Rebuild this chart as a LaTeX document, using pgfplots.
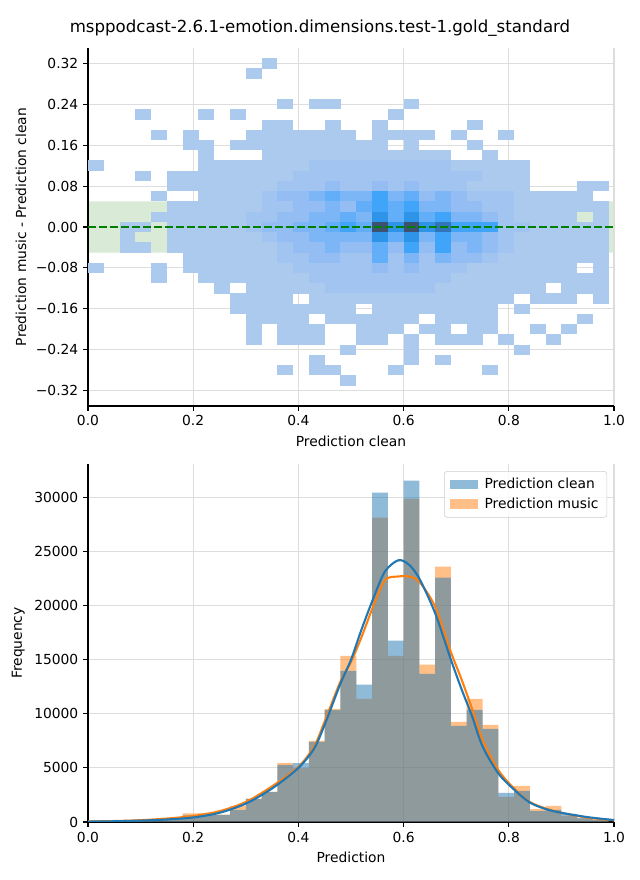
\documentclass[border=0pt]{standalone}
\usepackage{pgfplots}
\pgfplotsset{compat=1.18}
\usepackage{pgfplotstable}
\usepackage{fontspec}
\setmainfont{DejaVu Sans}

\definecolor{tabblue}{RGB}{31,119,180}
\definecolor{taborange}{RGB}{255,127,14}
\definecolor{gridgray}{RGB}{221,221,221}
\definecolor{spangreen}{RGB}{217,234,214}
\definecolor{linegreen}{RGB}{0,128,0}
\definecolor{legblue}{RGB}{143,187,217}
\definecolor{legorange}{RGB}{255,191,134}

\pgfdeclareplotmark{cell}{\pgfpathrectangle{\pgfpoint{-5.72bp}{-3.72bp}}{\pgfpoint{11.44bp}{7.44bp}}\pgfusepathqfill}

\pgfplotstableread{
x clean music
0.00 80 90
0.03 80 90
0.06 90 100
0.09 120 130
0.12 180 200
0.15 280 300
0.18 620 800
0.21 650 820
0.24 650 680
0.27 1110 1480
0.30 2130 2150
0.33 2780 2780
0.36 5280 5460
0.39 5450 5000
0.42 7400 7500
0.45 10350 10450
0.48 13980 15370
0.51 12690 11390
0.54 30460 28150
0.57 16760 15370
0.60 31570 29900
0.63 13700 14540
0.66 22600 23600
0.69 8890 9260
0.72 10370 11390
0.75 8610 8980
0.78 2690 2320
0.81 2870 3330
0.84 1020 1200
0.87 1110 1480
0.90 740 560
0.93 370 330
0.96 190 170
0.99 190 170
}\histdata

\pgfplotstableread{
x clean music
0.00 40 50
0.05 70 90
0.10 130 170
0.15 230 320
0.20 420 560
0.25 850 1000
0.30 1700 1850
0.35 3100 3300
0.40 5000 5100
0.43 6800 7000
0.45 9000 9300
0.48 12800 13000
0.50 15000 14800
0.52 17800 17100
0.545 21000 20300
0.565 23200 22400
0.59 24200 22700
0.61 23800 22700
0.63 22500 22200
0.66 19300 19900
0.69 15000 15700
0.71 12300 13200
0.73 9800 10500
0.75 7000 7600
0.78 4500 4800
0.81 3000 3100
0.84 1800 1850
0.87 1200 1250
0.90 850 850
0.95 450 400
1.00 180 150
}\kdedata

\pgfplotsset{myaxis/.style={
  scale only axis, width=378.72bp, height=257.76bp,
  xmin=0, xmax=1,
  axis x line*=bottom, axis y line*=left,
  axis line style={-, line width=0.8pt},
  tick align=outside, major tick length=3.5pt,
  every tick/.style={black, line width=0.8pt},
  grid=major, grid style={gridgray, line width=0.8pt},
  xtick={0,0.2,0.4,0.6,0.8,1}, xticklabels={0.0,0.2,0.4,0.6,0.8,1.0},
  /pgf/number format/assume math mode=true,
  tick label style={font=\fontsize{10}{12}\selectfont},
  label style={font=\fontsize{10}{12}\selectfont},
}}

\begin{document}
\begin{tikzpicture}
\path[use as bounding box] (0,0) rectangle (460.8bp,633.6bp);
\node[font=\fontsize{12}{14}\selectfont] at (230.4bp,613bp) {msppodcast-2.6.1-emotion.dimensions.test-1.gold\_standard};

\begin{axis}[myaxis, at={(63.36bp,341.28bp)}, anchor=south west,
  axis on top,
  ymin=-0.35, ymax=0.35,
  ytick={-0.32,-0.24,-0.16,-0.08,0,0.08,0.16,0.24,0.32},
  yticklabels={−0.32,−0.24,−0.16,−0.08,0.00,0.08,0.16,0.24,0.32},
  xlabel={Prediction clean}, ylabel={Prediction music - Prediction clean},
  colormap={heat}{rgb255=(172,201,238) rgb255=(162,196,240) rgb255=(148,190,243) rgb255=(125,182,246) rgb255=(98,174,248) rgb255=(64,164,248) rgb255=(45,148,232) rgb255=(50,118,185) rgb255=(60,82,112)},
  point meta min=1, point meta max=9]

\addplot[fill=spangreen, draw=none, forget plot] coordinates {(0,-0.05) (1,-0.05) (1,0.05) (0,0.05) (0,-0.05)};

\addplot[scatter, only marks, mark=cell, point meta=explicit,
  scatter/use mapped color={draw=mapped color, fill=mapped color}]
  table[x=x, y=y, meta=v, row sep=\\] {
x y v\\
0.345 0.32 1\\
0.315 0.30 1\\
0.375 0.24 1\\ 0.435 0.24 1\\ 0.465 0.24 1\\ 0.615 0.24 1\\
0.105 0.22 1\\ 0.225 0.22 1\\ 0.285 0.22 1\\ 0.585 0.22 1\\
0.345 0.20 1\\ 0.375 0.20 1\\ 0.465 0.20 1\\ 0.555 0.20 1\\ 0.735 0.20 1\\
0.135 0.18 1\\ 0.195 0.18 1\\ 0.315 0.18 1\\ 0.345 0.18 1\\ 0.375 0.18 1\\ 0.405 0.18 1\\ 0.435 0.18 1\\ 0.465 0.18 1\\ 0.495 0.18 1\\ 0.555 0.18 1\\ 0.585 0.18 1\\ 0.615 0.18 1\\ 0.645 0.18 1\\ 0.705 0.18 1\\ 0.795 0.18 1\\
0.195 0.16 1\\ 0.225 0.16 1\\ 0.285 0.16 1\\ 0.315 0.16 1\\ 0.345 0.16 1\\ 0.375 0.16 1\\ 0.405 0.16 1\\ 0.435 0.16 1\\ 0.465 0.16 1\\ 0.495 0.16 1\\ 0.525 0.16 1\\ 0.555 0.16 1\\ 0.615 0.16 1\\ 0.735 0.16 1\\
0.225 0.14 1\\ 0.345 0.14 1\\ 0.375 0.14 1\\ 0.405 0.14 1\\ 0.435 0.14 1\\ 0.465 0.14 1\\ 0.495 0.14 1\\ 0.525 0.14 1\\ 0.555 0.14 1\\ 0.585 0.14 1\\ 0.615 0.14 1\\ 0.645 0.14 1\\ 0.675 0.14 1\\ 0.765 0.14 1\\
0.015 0.12 1\\ 0.225 0.12 1\\ 0.255 0.12 1\\ 0.285 0.12 1\\ 0.315 0.12 1\\ 0.345 0.12 1\\ 0.375 0.12 1\\ 0.405 0.12 1\\ 0.435 0.12 2\\ 0.465 0.12 2\\ 0.495 0.12 2\\ 0.525 0.12 2\\ 0.555 0.12 2\\ 0.585 0.12 2\\ 0.615 0.12 2\\ 0.645 0.12 2\\ 0.675 0.12 2\\ 0.705 0.12 1\\ 0.735 0.12 1\\ 0.765 0.12 1\\ 0.795 0.12 1\\ 0.825 0.12 1\\
0.105 0.10 1\\ 0.165 0.10 1\\ 0.195 0.10 1\\ 0.225 0.10 1\\ 0.255 0.10 1\\ 0.285 0.10 1\\ 0.315 0.10 1\\ 0.345 0.10 1\\ 0.375 0.10 1\\ 0.405 0.10 2\\ 0.435 0.10 2\\ 0.465 0.10 2\\ 0.495 0.10 2\\ 0.525 0.10 2\\ 0.555 0.10 2\\ 0.585 0.10 2\\ 0.615 0.10 2\\ 0.645 0.10 2\\ 0.675 0.10 2\\ 0.705 0.10 2\\ 0.735 0.10 2\\ 0.765 0.10 1\\ 0.795 0.10 1\\ 0.825 0.10 1\\
0.165 0.08 1\\ 0.195 0.08 1\\ 0.225 0.08 1\\ 0.255 0.08 1\\ 0.285 0.08 1\\ 0.315 0.08 1\\ 0.345 0.08 1\\ 0.375 0.08 2\\ 0.405 0.08 2\\ 0.435 0.08 2\\ 0.465 0.08 3\\ 0.495 0.08 2\\ 0.525 0.08 2\\ 0.555 0.08 3\\ 0.585 0.08 2\\ 0.615 0.08 3\\ 0.645 0.08 2\\ 0.675 0.08 2\\ 0.705 0.08 2\\ 0.735 0.08 1\\ 0.765 0.08 1\\ 0.795 0.08 1\\ 0.825 0.08 1\\ 0.945 0.08 1\\ 0.975 0.08 1\\
0.135 0.06 1\\ 0.225 0.06 1\\ 0.255 0.06 1\\ 0.285 0.06 1\\ 0.315 0.06 1\\ 0.345 0.06 2\\ 0.375 0.06 3\\ 0.405 0.06 3\\ 0.435 0.06 4\\ 0.465 0.06 5\\ 0.495 0.06 4\\ 0.525 0.06 4\\ 0.555 0.06 6\\ 0.585 0.06 4\\ 0.615 0.06 5\\ 0.645 0.06 3\\ 0.675 0.06 4\\ 0.705 0.06 3\\ 0.735 0.06 2\\ 0.765 0.06 2\\ 0.795 0.06 2\\ 0.825 0.06 1\\ 0.855 0.06 1\\ 0.885 0.06 1\\ 0.915 0.06 1\\ 0.945 0.06 1\\
0.165 0.04 1\\ 0.195 0.04 1\\ 0.225 0.04 1\\ 0.255 0.04 1\\ 0.285 0.04 1\\ 0.315 0.04 1\\ 0.345 0.04 2\\ 0.375 0.04 2\\ 0.405 0.04 3\\ 0.435 0.04 3\\ 0.465 0.04 4\\ 0.495 0.04 3\\ 0.525 0.04 5\\ 0.555 0.04 6\\ 0.585 0.04 5\\ 0.615 0.04 6\\ 0.645 0.04 4\\ 0.675 0.04 4\\ 0.705 0.04 3\\ 0.735 0.04 3\\ 0.765 0.04 2\\ 0.795 0.04 2\\ 0.825 0.04 1\\ 0.855 0.04 1\\ 0.885 0.04 1\\ 0.915 0.04 1\\ 0.945 0.04 1\\ 0.975 0.04 1\\
0.135 0.02 1\\ 0.165 0.02 1\\ 0.195 0.02 1\\ 0.225 0.02 1\\ 0.255 0.02 1\\ 0.285 0.02 1\\ 0.315 0.02 2\\ 0.345 0.02 2\\ 0.375 0.02 3\\ 0.405 0.02 3\\ 0.435 0.02 4\\ 0.465 0.02 4\\ 0.495 0.02 5\\ 0.525 0.02 4\\ 0.555 0.02 7\\ 0.585 0.02 5\\ 0.615 0.02 7\\ 0.645 0.02 5\\ 0.675 0.02 6\\ 0.705 0.02 4\\ 0.735 0.02 4\\ 0.765 0.02 3\\ 0.795 0.02 2\\ 0.825 0.02 1\\ 0.855 0.02 1\\ 0.885 0.02 1\\ 0.915 0.02 1\\ 0.975 0.02 1\\
0.075 0.00 1\\ 0.105 0.00 1\\ 0.165 0.00 1\\ 0.195 0.00 1\\ 0.225 0.00 1\\ 0.255 0.00 1\\ 0.285 0.00 1\\ 0.315 0.00 2\\ 0.345 0.00 3\\ 0.375 0.00 3\\ 0.405 0.00 4\\ 0.435 0.00 4\\ 0.465 0.00 5\\ 0.495 0.00 6\\ 0.525 0.00 5\\ 0.555 0.00 9\\ 0.585 0.00 7\\ 0.615 0.00 9\\ 0.645 0.00 7\\ 0.675 0.00 8\\ 0.705 0.00 6\\ 0.735 0.00 6\\ 0.765 0.00 6\\ 0.795 0.00 2\\ 0.825 0.00 2\\ 0.855 0.00 1\\ 0.885 0.00 1\\ 0.915 0.00 1\\ 0.945 0.00 1\\ 0.975 0.00 1\\
0.075 -0.02 1\\ 0.165 -0.02 1\\ 0.195 -0.02 1\\ 0.225 -0.02 1\\ 0.255 -0.02 1\\ 0.285 -0.02 1\\ 0.315 -0.02 1\\ 0.345 -0.02 2\\ 0.375 -0.02 3\\ 0.405 -0.02 3\\ 0.435 -0.02 4\\ 0.465 -0.02 4\\ 0.495 -0.02 4\\ 0.525 -0.02 4\\ 0.555 -0.02 7\\ 0.585 -0.02 5\\ 0.615 -0.02 7\\ 0.645 -0.02 4\\ 0.675 -0.02 6\\ 0.705 -0.02 4\\ 0.735 -0.02 4\\ 0.765 -0.02 3\\ 0.795 -0.02 2\\ 0.825 -0.02 1\\ 0.855 -0.02 1\\ 0.885 -0.02 1\\ 0.915 -0.02 1\\ 0.945 -0.02 1\\ 0.975 -0.02 1\\
0.075 -0.04 1\\ 0.105 -0.04 1\\ 0.165 -0.04 1\\ 0.195 -0.04 1\\ 0.225 -0.04 1\\ 0.255 -0.04 1\\ 0.285 -0.04 1\\ 0.315 -0.04 1\\ 0.345 -0.04 1\\ 0.375 -0.04 2\\ 0.405 -0.04 3\\ 0.435 -0.04 3\\ 0.465 -0.04 4\\ 0.495 -0.04 3\\ 0.525 -0.04 3\\ 0.555 -0.04 5\\ 0.585 -0.04 3\\ 0.615 -0.04 6\\ 0.645 -0.04 3\\ 0.675 -0.04 6\\ 0.705 -0.04 3\\ 0.735 -0.04 4\\ 0.765 -0.04 3\\ 0.795 -0.04 2\\ 0.825 -0.04 1\\ 0.855 -0.04 1\\ 0.885 -0.04 1\\ 0.915 -0.04 1\\ 0.945 -0.04 1\\ 0.975 -0.04 1\\
0.195 -0.06 1\\ 0.225 -0.06 1\\ 0.255 -0.06 1\\ 0.285 -0.06 1\\ 0.315 -0.06 1\\ 0.345 -0.06 1\\ 0.375 -0.06 2\\ 0.405 -0.06 2\\ 0.435 -0.06 3\\ 0.465 -0.06 3\\ 0.495 -0.06 2\\ 0.525 -0.06 2\\ 0.555 -0.06 5\\ 0.585 -0.06 2\\ 0.615 -0.06 4\\ 0.645 -0.06 2\\ 0.675 -0.06 4\\ 0.705 -0.06 3\\ 0.735 -0.06 3\\ 0.765 -0.06 2\\ 0.795 -0.06 1\\ 0.825 -0.06 1\\ 0.855 -0.06 1\\ 0.885 -0.06 1\\ 0.915 -0.06 1\\ 0.945 -0.06 1\\ 0.975 -0.06 1\\
0.015 -0.08 1\\ 0.135 -0.08 1\\ 0.195 -0.08 1\\ 0.225 -0.08 1\\ 0.255 -0.08 1\\ 0.285 -0.08 1\\ 0.315 -0.08 1\\ 0.345 -0.08 1\\ 0.375 -0.08 1\\ 0.405 -0.08 2\\ 0.435 -0.08 2\\ 0.465 -0.08 2\\ 0.495 -0.08 2\\ 0.525 -0.08 2\\ 0.555 -0.08 3\\ 0.585 -0.08 2\\ 0.615 -0.08 3\\ 0.645 -0.08 2\\ 0.675 -0.08 2\\ 0.705 -0.08 2\\ 0.735 -0.08 1\\ 0.765 -0.08 1\\ 0.795 -0.08 1\\ 0.825 -0.08 1\\ 0.855 -0.08 1\\ 0.885 -0.08 1\\ 0.915 -0.08 1\\ 0.975 -0.08 1\\
0.135 -0.10 1\\ 0.225 -0.10 1\\ 0.255 -0.10 1\\ 0.285 -0.10 1\\ 0.315 -0.10 1\\ 0.345 -0.10 1\\ 0.375 -0.10 1\\ 0.405 -0.10 1\\ 0.435 -0.10 2\\ 0.465 -0.10 2\\ 0.495 -0.10 2\\ 0.525 -0.10 2\\ 0.555 -0.10 2\\ 0.585 -0.10 2\\ 0.615 -0.10 2\\ 0.645 -0.10 2\\ 0.675 -0.10 2\\ 0.705 -0.10 1\\ 0.735 -0.10 1\\ 0.765 -0.10 1\\ 0.795 -0.10 1\\ 0.825 -0.10 1\\ 0.855 -0.10 1\\ 0.885 -0.10 1\\ 0.915 -0.10 1\\ 0.945 -0.10 1\\ 0.975 -0.10 1\\
0.255 -0.12 1\\ 0.315 -0.12 1\\ 0.345 -0.12 1\\ 0.375 -0.12 1\\ 0.405 -0.12 1\\ 0.435 -0.12 1\\ 0.465 -0.12 2\\ 0.495 -0.12 2\\ 0.525 -0.12 2\\ 0.555 -0.12 2\\ 0.585 -0.12 2\\ 0.615 -0.12 2\\ 0.645 -0.12 2\\ 0.675 -0.12 1\\ 0.705 -0.12 1\\ 0.735 -0.12 1\\ 0.765 -0.12 1\\ 0.795 -0.12 1\\ 0.825 -0.12 1\\ 0.855 -0.12 1\\ 0.915 -0.12 1\\ 0.945 -0.12 1\\ 0.975 -0.12 1\\
0.285 -0.14 1\\ 0.315 -0.14 1\\ 0.345 -0.14 1\\ 0.375 -0.14 1\\ 0.435 -0.14 1\\ 0.465 -0.14 1\\ 0.495 -0.14 1\\ 0.525 -0.14 1\\ 0.555 -0.14 1\\ 0.585 -0.14 1\\ 0.615 -0.14 1\\ 0.645 -0.14 1\\ 0.675 -0.14 1\\ 0.705 -0.14 1\\ 0.735 -0.14 1\\ 0.765 -0.14 1\\ 0.795 -0.14 1\\ 0.855 -0.14 1\\ 0.885 -0.14 1\\ 0.915 -0.14 1\\ 0.975 -0.14 1\\
0.285 -0.16 1\\ 0.315 -0.16 1\\ 0.345 -0.16 1\\ 0.375 -0.16 1\\ 0.405 -0.16 1\\ 0.435 -0.16 1\\ 0.465 -0.16 1\\ 0.495 -0.16 1\\ 0.555 -0.16 1\\ 0.585 -0.16 1\\ 0.615 -0.16 1\\ 0.645 -0.16 1\\ 0.675 -0.16 1\\ 0.705 -0.16 1\\ 0.735 -0.16 1\\ 0.765 -0.16 1\\ 0.825 -0.16 1\\
0.315 -0.18 1\\ 0.345 -0.18 1\\ 0.375 -0.18 1\\ 0.405 -0.18 1\\ 0.465 -0.18 1\\ 0.495 -0.18 1\\ 0.525 -0.18 1\\ 0.555 -0.18 1\\ 0.585 -0.18 1\\ 0.615 -0.18 1\\ 0.675 -0.18 1\\ 0.705 -0.18 1\\ 0.735 -0.18 1\\ 0.765 -0.18 1\\ 0.945 -0.18 1\\
0.315 -0.20 1\\ 0.375 -0.20 1\\ 0.405 -0.20 1\\ 0.435 -0.20 1\\ 0.525 -0.20 1\\ 0.555 -0.20 1\\ 0.585 -0.20 1\\ 0.645 -0.20 1\\ 0.675 -0.20 1\\ 0.735 -0.20 1\\ 0.765 -0.20 1\\ 0.855 -0.20 1\\ 0.915 -0.20 1\\
0.315 -0.22 1\\ 0.375 -0.22 1\\ 0.405 -0.22 1\\ 0.435 -0.22 1\\ 0.525 -0.22 1\\ 0.555 -0.22 1\\ 0.615 -0.22 1\\ 0.675 -0.22 1\\ 0.705 -0.22 1\\ 0.735 -0.22 1\\ 0.795 -0.22 1\\ 0.885 -0.22 1\\
0.495 -0.24 1\\ 0.615 -0.24 1\\ 0.825 -0.24 1\\
0.435 -0.26 1\\ 0.615 -0.26 1\\ 0.675 -0.26 1\\
0.375 -0.28 1\\ 0.435 -0.28 1\\ 0.465 -0.28 1\\ 0.585 -0.28 1\\ 0.765 -0.28 1\\
0.495 -0.30 1\\
};
\end{axis}

\begin{axis}[at={(63.36bp,341.28bp)}, anchor=south west,
  scale only axis, width=378.72bp, height=257.76bp,
  xmin=0, xmax=1, ymin=-0.35, ymax=0.35, hide axis]
\addplot[linegreen, line width=1.5pt, dash pattern=on 5.55pt off 2.4pt, forget plot] coordinates {(0,0) (1,0)};
\end{axis}

\begin{axis}[myaxis, at={(63.36bp,41.76bp)}, anchor=south west,
  ymin=0, ymax=33100, scaled y ticks=false,
  ytick={0,5000,10000,15000,20000,25000,30000},
  yticklabels={0,5000,10000,15000,20000,25000,30000},
  xlabel={Prediction}, ylabel={Frequency},
  legend cell align=left,
  legend style={at={(0.987,0.98)}, anchor=north east, draw=black!20, rounded corners=2pt,
    fill=white, fill opacity=0.8, text opacity=1, font=\fontsize{10}{12}\selectfont,
    inner xsep=4pt, inner ysep=3pt, row sep=1pt}]

\addplot[ybar interval, fill=taborange, fill opacity=0.5, draw=none, forget plot] table[x=x, y=music] {\histdata};
\addplot[ybar interval, fill=tabblue, fill opacity=0.5, draw=none, forget plot] table[x=x, y=clean] {\histdata};
\addplot[smooth, taborange, line width=1.5pt, forget plot] table[x=x, y=music] {\kdedata};
\addplot[smooth, tabblue, line width=1.5pt, forget plot] table[x=x, y=clean] {\kdedata};

\addlegendimage{legend image code/.code={\path[fill=legblue, draw=none, sharp corners, fill opacity=1] (0bp,-3.4bp) rectangle (20bp,3.4bp); \path[draw=none, fill=none] (0bp,0bp) -- (23bp,0bp);}}
\addlegendentry{Prediction clean}
\addlegendimage{legend image code/.code={\path[fill=legorange, draw=none, sharp corners, fill opacity=1] (0bp,-3.4bp) rectangle (20bp,3.4bp); \path[draw=none, fill=none] (0bp,0bp) -- (23bp,0bp);}}
\addlegendentry{Prediction music}
\end{axis}
\end{tikzpicture}
\end{document}
